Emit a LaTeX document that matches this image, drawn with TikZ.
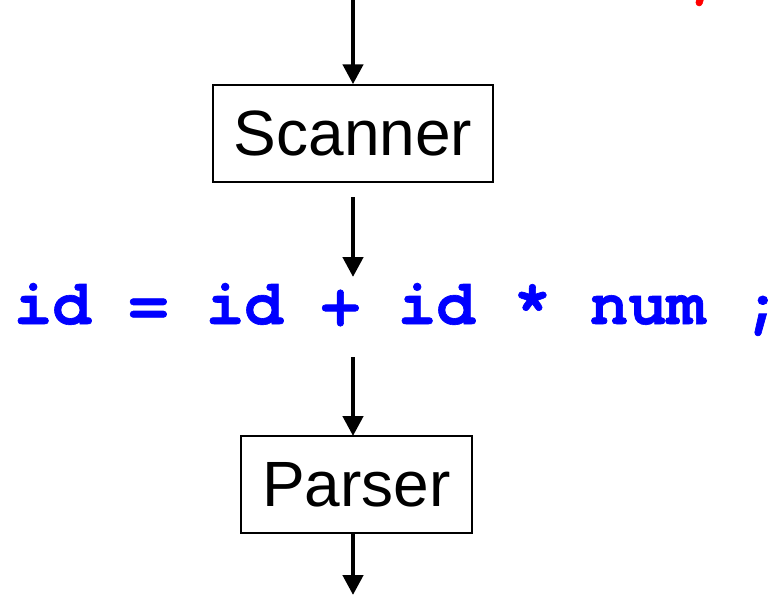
\documentclass[tikz,border=0pt]{standalone}
\usepackage{fontspec}
\setmainfont{Liberation Sans}
\newfontfamily\codefont{texgyrecursor}[Extension=.otf, UprightFont=*-regular, BoldFont=*-bold, BoldFeatures={FakeBold=1}]
\usetikzlibrary{arrows.meta}
\definecolor{codeblue}{RGB}{0,0,255}
\definecolor{codered}{RGB}{255,0,0}
\tikzset{
  stage/.style={draw, line width=1.5pt, inner sep=0pt, minimum height=97pt,
    font=\fontsize{64}{64}\selectfont},
  flow/.style={line width=4.5pt, -{Triangle[length=20pt,width=20pt]}},
  tokens/.style={font=\codefont\bfseries\fontsize{64}{64}\selectfont, inner sep=0pt, anchor=base}
}
\begin{document}
\begin{tikzpicture}[x=1pt, y=-1pt]
  \useasboundingbox (0,0) rectangle (776,595);
  % tail of the source line above, cut by the page edge
  \node[tokens, text=codered] (src) at (704,-6) {;};
  % stages
  \node[stage, minimum width=280pt] (scan) at (353,133.5) {Scanner};
  \node[tokens, text=codeblue] (toks) at (398,324) {id = id + id * num ;};
  \node[stage, minimum width=231pt] (parse) at (356.5,484.5) {Parser};
  % arrow end points
  \coordinate (in) at (353,0);
  \coordinate (s1) at (353,197);
  \coordinate (t1) at (353,277);
  \coordinate (s2) at (353,357);
  \coordinate (out) at (353,595);
  \coordinate (pin) at (353,436);
  \coordinate (pout) at (353,533);
  \draw[flow] (in) -- (scan.north);
  \draw[flow] (s1) -- (t1);
  \draw[flow] (s2) -- (pin);
  \draw[flow] (pout) -- (out);
\end{tikzpicture}
\end{document}
